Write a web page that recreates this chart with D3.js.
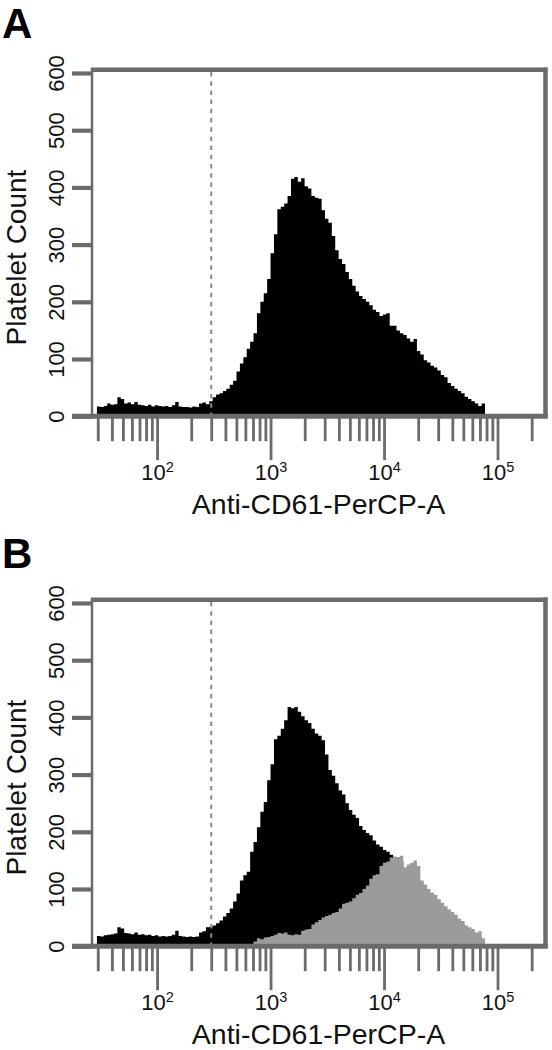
<!DOCTYPE html>
<html><head><meta charset="utf-8">
<script src="https://cdn.jsdelivr.net/npm/d3@7"></script>
<style>body{margin:0;background:#fff}svg{display:block}</style>
</head><body><svg id="c" width="552" height="1050"></svg>
<script>
// ---- data ----
const binStartLog = 1.47;   // log10 of first bin's left edge
const binWidthLog = 0.03;   // bin width in decades
const countsA = [
 17,16,18,22,20,21,33,30,22,24,
 21,25,20,19,18,20,17,19,18,17,
 18,16,19,25,17,16,16,15,17,16,
 22,24,21,26,33,38,40,44,48,55,
 62,78,92,103,118,130,145,180,200,215,
 240,285,318,362,366,372,385,415,418,410,
 416,402,398,385,382,380,360,345,338,315,
 290,275,266,252,240,228,218,210,205,200,
 194,186,182,175,178,180,158,158,150,145,
 142,136,130,135,114,108,98,94,88,85,
 80,72,68,58,53,48,44,40,34,30,
 26,22,18,22];
const countsBBlack = [
 18,17,19,20,21,22,33,31,23,22,
 21,24,20,21,19,20,18,19,17,18,
 17,18,20,27,18,17,16,17,16,17,
 24,26,33,34,36,40,45,52,58,66,
 78,92,115,124,130,165,182,208,235,252,
 290,318,362,368,380,395,418,416,418,410,
 402,395,390,380,372,368,360,335,308,298,
 285,272,265,250,238,230,224,210,203,198,
 194,185,178,174,168,165,160,156,152,148,
 134,130,126,120,112,105,96,90,85,80,
 74,68,62,56,52,46,42,38,32,28,
 24,20,16,12];
const countsBGray = [
 0,0,0,0,0,0,0,0,0,0,
 0,0,0,0,0,0,0,0,0,0,
 0,0,0,0,0,0,0,0,0,0,
 0,0,0,0,0,0,0,0,0,0,
 0,0,0,0,0,4,8,14,12,15,
 16,18,20,23,22,24,20,19,21,20,
 27,29,30,38,42,46,50,53,55,58,
 60,66,74,76,78,84,90,93,100,106,
 118,124,126,140,146,148,155,157,156,158,
 138,143,146,150,140,115,108,100,94,90,
 82,76,70,64,60,55,48,44,36,33,
 30,24,26,14];
const yTicks = [0,100,200,300,400,500,600];
const xMajor = [100,1000,10000,100000];
const xMinor = [30,40,50,60,70,80,90,200,300,400,500,600,700,800,900,
  2000,3000,4000,5000,6000,7000,8000,9000,20000,30000,40000,50000,60000,70000,80000,90000,200000];
const xDomain = [26.7, 262144];
const gateValue = 300;
const panelLabels = ["A","B"];
const xTitle = "Anti-CD61-PerCP-A";
const yTitle = "Platelet Count";

// ---- layout ----
const L = 92, R = 545, Y0 = 416.2, Y600 = 73;
const panelOffset = [0, 530];
const frameCol = "#6b6b6b";
const font = "Liberation Sans, Arial, sans-serif";

const svg = d3.select("#c");
const x = d3.scaleLog().domain(xDomain).range([L, R]);
const y = d3.scaleLinear().domain([0, 600]).range([Y0, Y600]);

function seriesPoints(vals){
  const pts = vals.map((v,i)=>({lx: binStartLog + i*binWidthLog, v}));
  pts.push({lx: binStartLog + vals.length*binWidthLog, v: vals[vals.length-1]});
  return pts;
}
const area = d3.area()
  .x(d => x(Math.pow(10, d.lx)))
  .y0(y(0))
  .y1(d => y(d.v))
  .curve(d3.curveStepAfter);

const panels = [
  {series: [{vals: countsA, color: "#000"}]},
  {series: [{vals: countsBBlack, color: "#000"}, {vals: countsBGray, color: "#9b9b9b"}]}
];

panels.forEach((p, pi) => {
  const g = svg.append("g").attr("transform", `translate(0,${panelOffset[pi]})`);

  // histograms
  p.series.forEach(s => {
    g.append("path").attr("d", area(seriesPoints(s.vals))).attr("fill", s.color);
  });

  // gate dashed line
  g.append("line")
    .attr("x1", x(gateValue)).attr("x2", x(gateValue))
    .attr("y1", Y600 - 1).attr("y2", Y0 - 2)
    .attr("stroke", "#8a8a8a").attr("stroke-width", 2)
    .attr("stroke-dasharray", "4.5,4.7");

  // frame: left thin, top & right thick
  g.append("line").attr("x1", L).attr("x2", L).attr("y1", Y600 - 5).attr("y2", Y0)
    .attr("stroke", frameCol).attr("stroke-width", 2.5);
  g.append("line").attr("x1", L - 1).attr("x2", R + 2.5).attr("y1", Y600 - 3.3).attr("y2", Y600 - 3.3)
    .attr("stroke", frameCol).attr("stroke-width", 4.5);
  g.append("line").attr("x1", R + 0.5).attr("x2", R + 0.5).attr("y1", Y600 - 5.5).attr("y2", Y0)
    .attr("stroke", frameCol).attr("stroke-width", 4.5);

  // y axis
  const ya = g.append("g").attr("transform", `translate(${L},0)`)
    .call(d3.axisLeft(y).tickValues(yTicks).tickSize(20).tickSizeOuter(0).tickPadding(0));
  ya.select(".domain").remove();
  ya.selectAll(".tick line").attr("stroke", frameCol).attr("stroke-width", 4.2);
  ya.selectAll(".tick text")
    .attr("transform", "rotate(-90)")
    .attr("x", 0).attr("y", -28.5).attr("dy", 0)
    .attr("text-anchor", "middle")
    .attr("font-family", font)
    .attr("font-size", 22).attr("fill", "#111");

  // x axis minor
  const xm = g.append("g").attr("transform", `translate(0,${Y0})`)
    .call(d3.axisBottom(x).tickValues(xMinor).tickSize(25).tickSizeOuter(0).tickFormat(""));
  xm.select(".domain").remove();
  xm.selectAll(".tick line").attr("stroke", frameCol).attr("stroke-width", 2.8);

  // x axis major
  const xa = g.append("g").attr("transform", `translate(0,${Y0})`)
    .call(d3.axisBottom(x).tickValues(xMajor).tickSize(44).tickSizeOuter(0));
  xa.select(".domain").remove();
  xa.selectAll(".tick line").attr("stroke", frameCol).attr("stroke-width", 2.8);
  xa.selectAll(".tick text").each(function(d){
    const t = d3.select(this).text("")
      .attr("y", 64).attr("dy", 0)
      .attr("text-anchor", "middle")
      .attr("font-family", font)
      .attr("font-size", 22).attr("fill", "#111");
    t.append("tspan").text("10");
    t.append("tspan").text(Math.round(Math.log10(d))).attr("font-size", 14.5).attr("dy", -8.5);
  });

  // bottom axis line (thick)
  g.append("line").attr("x1", L - 20).attr("x2", R + 2.8).attr("y1", Y0).attr("y2", Y0)
    .attr("stroke", frameCol).attr("stroke-width", 5);

  // titles
  g.append("text").attr("x", (L + R) / 2).attr("y", 513.5)
    .attr("text-anchor", "middle")
    .attr("font-family", font)
    .attr("font-size", 28.5).attr("fill", "#111").text(xTitle);
  g.append("text").attr("transform", `translate(26,${(Y0 + Y600) / 2 + 13}) rotate(-90)`)
    .attr("text-anchor", "middle")
    .attr("font-family", font)
    .attr("font-size", 28).attr("fill", "#111").text(yTitle);
  g.append("text").attr("x", 2).attr("y", 38)
    .attr("font-family", font)
    .attr("font-weight", "bold").attr("font-size", 42).attr("fill", "#000")
    .text(panelLabels[pi]);
});
</script>
</body></html>
